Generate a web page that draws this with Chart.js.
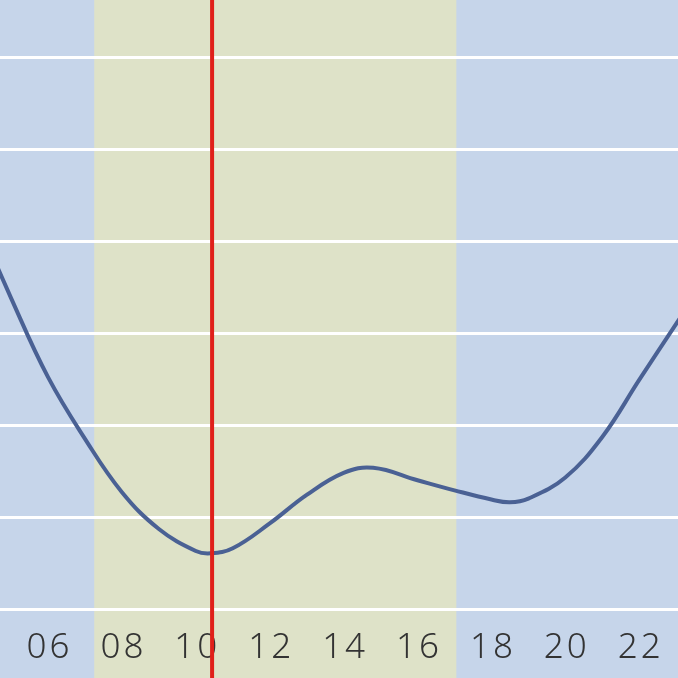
<!DOCTYPE html>
<html>
<head>
<meta charset="utf-8">
<script src="https://cdn.jsdelivr.net/npm/chart.js@4"></script>
<style>
  html, body { margin: 0; padding: 0; background: #c6d5ea; }
  #wrap { width: 678px; height: 678px; }
</style>
</head>
<body>
<div id="wrap"><canvas id="tide"></canvas></div>
<script>
// tide curve, hour of day vs level (grid units)
const hours = [4, 5, 6, 7, 8, 9, 10, 10.4, 11, 12, 13, 14, 14.8, 16, 17, 18, 18.5, 19, 20, 21, 22, 23, 24];
const levels = [4.3, 3.38, 2.52, 1.85, 1.27, 0.87, 0.63, 0.605, 0.66, 0.93, 1.24, 1.48, 1.535, 1.40, 1.29, 1.19, 1.16, 1.2, 1.43, 1.87, 2.49, 3.1, 3.7];

const tickHours = [6, 8, 10, 12, 14, 16, 18, 20, 22];
const tickLabels = ['06', '08', '10', '12', '14', '16', '18', '20', '22'];
const gridLevels = [0, 1, 2, 3, 4, 5, 6];

const daylight = [7.25, 17.05];   // sunrise / sunset
const nowHour = 10.44;

// background: night blue, daylight band
const bgPlugin = {
    id: 'bg',
    beforeDraw(chart) {
        const { ctx, chartArea: a, scales: { x } } = chart;
        ctx.save();
        ctx.fillStyle = '#c6d5ea';
        ctx.fillRect(a.left, a.top, a.right - a.left, a.bottom - a.top);
        const x0 = x.getPixelForValue(daylight[0]);
        const x1 = x.getPixelForValue(daylight[1]);
        ctx.fillStyle = '#dee2c8';
        ctx.fillRect(x0, a.top, x1 - x0, a.bottom - a.top);
        ctx.restore();
    }
};

// hour labels inside the plot, then the "now" marker on top
const overlayPlugin = {
    id: 'overlay',
    afterDatasetsDraw(chart) {
        const { ctx, chartArea: a, scales: { x } } = chart;
        ctx.save();
        ctx.fillStyle = '#333333';
        ctx.font = '300 35px "Noto Sans", sans-serif';
        ctx.letterSpacing = '3px';
        ctx.textAlign = 'center';
        ctx.textBaseline = 'middle';
        tickHours.forEach((h, i) => {
            ctx.fillText(tickLabels[i], x.getPixelForValue(h) + 1.5, 648);
        });
        ctx.letterSpacing = '0px';
        const nx = x.getPixelForValue(nowHour);
        ctx.strokeStyle = '#e0201a';
        ctx.lineWidth = 4;
        ctx.beginPath();
        ctx.moveTo(nx, a.top);
        ctx.lineTo(nx, a.bottom);
        ctx.stroke();
        ctx.restore();
    }
};

new Chart(document.getElementById('tide'), {
    type: 'line',
    data: {
        datasets: [{
            data: hours.map((h, i) => ({ x: h, y: levels[i] })),
            borderColor: '#4a6194',
            borderWidth: 4,
            pointRadius: 0,
            tension: 0.4,
            fill: false
        }]
    },
    options: {
        responsive: true,
        maintainAspectRatio: false,
        animation: false,
        layout: { padding: 0 },
        plugins: { legend: { display: false }, tooltip: { enabled: false } },
        scales: {
            x: { type: 'linear', min: 4.7, max: 23.05, display: false },
            y: {
                min: -0.75, max: 6.62,
                afterBuildTicks: axis => { axis.ticks = gridLevels.map(v => ({ value: v })); },
                ticks: { display: false },
                border: { display: false },
                grid: { color: '#ffffff', lineWidth: 3, drawTicks: false }
            }
        }
    },
    plugins: [bgPlugin, overlayPlugin]
});
</script>
</body>
</html>
